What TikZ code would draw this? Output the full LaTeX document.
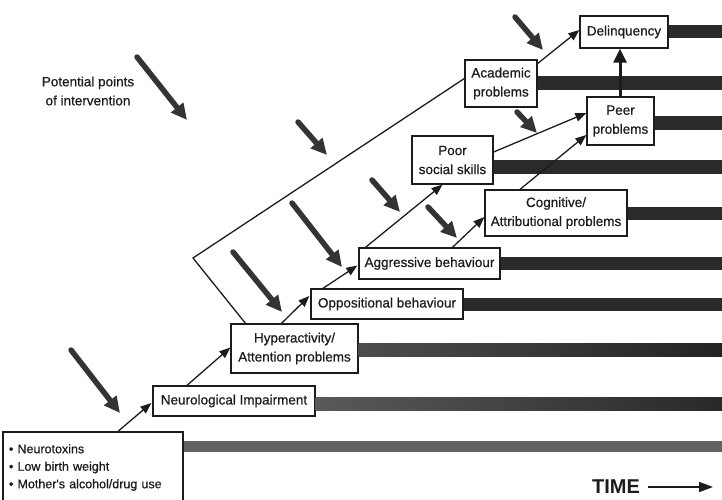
\documentclass[tikz,border=0pt]{standalone}
\usepackage{fontspec}
\setmainfont{Liberation Sans}
\newfontfamily\heavyfont[FakeBold=0.6]{Liberation Sans}
\usetikzlibrary{arrows.meta,calc}
\definecolor{ink}{HTML}{1C1C1C}
\definecolor{bardark}{HTML}{2A2A2A}
\definecolor{intv}{HTML}{343434}
\tikzset{
  box/.style={draw=ink, line width=1.3pt, fill=white, inner xsep=2pt, inner ysep=1pt,
    font=\heavyfont\fontsize{13.5}{19}\selectfont, align=center, text=ink},
  srcbox/.style={draw=ink, line width=1.3pt, fill=white, inner xsep=5pt, inner ysep=1pt,
    font=\heavyfont\fontsize{12.5}{17.5}\selectfont, align=left, text=ink, text width=168pt},
  flow/.style={draw=ink, line width=1.3pt, -{Triangle[length=11pt,width=8.5pt]}},
  plainline/.style={draw=ink, line width=1.3pt},
  bigflow/.style={draw=ink, line width=3pt, -{Triangle[length=14pt,width=13pt]}},
  intervene/.style={draw=intv, line width=5.5pt, line cap=round, -{Triangle[length=16pt,width=15pt]}},
  timearrow/.style={draw=ink, line width=1.8pt, -{Triangle[length=14pt,width=10pt]}},
  label/.style={font=\heavyfont\fontsize{13.5}{19}\selectfont, align=center, text=ink},
}
\begin{document}
\begin{tikzpicture}[x=1pt, y=-1pt]
\useasboundingbox (0,0) rectangle (722,500);

% boxes
\node[srcbox, minimum width=180pt, minimum height=71pt] (src) at (93,467.5)
  {• Neurotoxins\\ • Low birth weight\\ • Mother's alcohol/drug use};
\node[box, minimum width=162pt, minimum height=30pt] (neuro) at (234,401) {Neurological Impairment};
\node[box, minimum width=127pt, minimum height=49pt] (hyper) at (294.5,348.5) {Hyperactivity/\\Attention problems};
\node[box, minimum width=152pt, minimum height=30pt] (opp) at (387,304) {Oppositional behaviour};
\node[box, minimum width=141pt, minimum height=31pt] (aggr) at (429.5,263.5) {Aggressive behaviour};
\node[box, minimum width=142pt, minimum height=46pt] (cog) at (556,213) {Cognitive/\\Attributional problems};
\node[box, minimum width=81pt, minimum height=48pt] (poor) at (452.5,160) {Poor\\social skills};
\node[box, minimum width=72pt, minimum height=47pt] (acad) at (501,83.5) {Academic\\problems};
\node[box, minimum width=67pt, minimum height=48pt] (peer) at (620.5,121) {Peer\\problems};
\node[box, minimum width=88pt, minimum height=32pt] (delinq) at (624,32) {Delinquency};

% time bars
\fill[black!62] (src.east |- 0,440.5) rectangle (722,452);
\shade[left color=black!65, right color=black!84] (neuro.east |- 0,397.5) rectangle (722,410);
\shade[left color=black!70, right color=black!86] (hyper.east |- 0,343.5) rectangle (722,356.5);
\fill[bardark] (opp.east |- 0,297.5) rectangle (722,310.5);
\fill[bardark] (aggr.east |- 0,256.5) rectangle (722,269.5);
\fill[bardark] (cog.east |- 0,206.5) rectangle (722,219.5);
\fill[bardark] (poor.east |- 0,160) rectangle (722,174);
\fill[bardark] (acad.east |- 0,76) rectangle (722,90.5);
\fill[bardark] (peer.east |- 0,116.5) rectangle (722,130);
\fill[bardark] (delinq.east |- 0,25.5) rectangle (722,38.5);

% developmental pathway connectors
\coordinate (corner) at (193,258);
\draw[flow] ($(src.north)+(25,0)$) -- ($(neuro.west)+(-1,2)$);
\draw[flow] ($(neuro.north)+(-47,0)$) -- ($(hyper.west)+(0,-1)$);
\draw[flow] ($(hyper.north)+(-13,0)$) -- ($(opp.west)+(-1,-8)$);
\draw[flow] ($(opp.north)+(-64,0)$) -- ($(aggr.west)+(-1,2)$);
\draw[flow] ($(aggr.north)+(-64,0)$) -- ($(poor.south)+(-10,0)$);
\draw[flow] ($(aggr.north)+(23,0)$) -- ($(cog.west)+(0,4)$);
\draw[plainline] ($(hyper.north)+(-49,0)$) -- (corner) -- ($(acad.west)+(0,-5)$);
\draw[flow] ($(acad.east)+(0,-20)$) -- ($(delinq.west)+(0,-2)$);
\draw[flow] ($(poor.east)+(0,-8)$) -- ($(peer.west)+(0,-8)$);
\draw[flow] ($(cog.north)+(-36,0)$) -- ($(peer.west)+(0,14)$);
\draw[bigflow] ($(peer.north)+(-0.5,0)$) -- ($(peer.north |- delinq.south)+(-0.5,0)$);

% intervention arrows
\coordinate (i1s) at (137,57);  \coordinate (i1e) at (187,120);
\coordinate (i2s) at (71,350);  \coordinate (i2e) at (120,413);
\coordinate (i3s) at (233,252); \coordinate (i3e) at (282,312);
\coordinate (i4s) at (292,203); \coordinate (i4e) at (342,267);
\coordinate (i5s) at (298,122); \coordinate (i5e) at (327,155);
\coordinate (i6s) at (372,180); \coordinate (i6e) at (400,212);
\coordinate (i7s) at (428,207); \coordinate (i7e) at (457,238);
\coordinate (i8s) at (517,112); \coordinate (i8e) at (537,133);
\coordinate (i9s) at (515,17);  \coordinate (i9e) at (543,50);
\foreach \k in {1,...,9} { \draw[intervene] (i\k s) -- (i\k e); }

% labels
\node[label] (pp) at (88,91) {Potential points\\of intervention};
\node[font=\bfseries\fontsize{20}{22}\selectfont, text=ink, inner sep=0pt] (time) at (616,487) {TIME};
\coordinate (timeend) at (713,487);
\draw[timearrow] ($(time.east)+(8,0)$) -- (timeend);
\end{tikzpicture}
\end{document}
